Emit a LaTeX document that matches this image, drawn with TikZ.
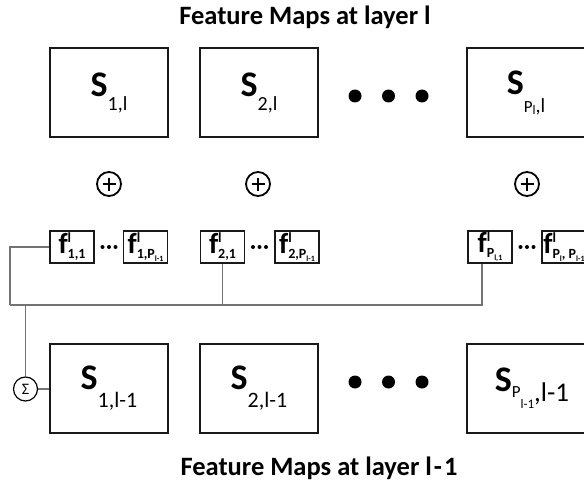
\documentclass[tikz,border=0pt]{standalone}
\usepackage{fontspec}
\setmainfont{Carlito}

% sized text helpers
\newcommand\fs[1]{\fontsize{#1}{#1}\selectfont}
% map labels: big bold S followed by a subscript lowered by #1 (size #2)
\newcommand\mapS[3]{{\bfseries\fs{36}S}\raisebox{-#1pt}{\fs{#2}#3}}
% kernel labels: bold f with superscript l over a subscript
\newcommand\kf[1]{{\bfseries\fs{29}f}\rlap{\raisebox{11pt}{\bfseries\fs{14}l}}\raisebox{-5pt}{\bfseries\fs{14}#1}}
\newcommand\ksub[1]{\raisebox{-3pt}{\fs{8}#1}}

\begin{document}
\begin{tikzpicture}[x=1pt,y=-1pt,
  mapbox/.style={draw=black!90, line width=2pt, minimum width=118pt, minimum height=89pt, inner sep=0pt},
  kbox/.style={draw=black!90, line width=1.8pt, minimum width=44pt, minimum height=32pt, inner sep=0pt},
  wire/.style={draw=black!55, line width=1.2pt},
  bigdot/.style={circle, fill=black, minimum size=13pt, inner sep=0pt},
  smalldot/.style={circle, fill=black, minimum size=4pt, inner sep=0pt},
  addop/.style={circle, draw=black, line width=1.8pt, minimum size=24pt, inner sep=0pt},
  sumop/.style={circle, draw=black, line width=1.2pt, minimum size=24pt, inner sep=0pt},
  title/.style={font=\bfseries\fs{26.5}, anchor=base},
]
\useasboundingbox (0,0) rectangle (584,487);

% titles
\node[title] (ttop) at (305,25) {Feature Maps at layer l};
\node[title] (tbot) at (319,475) {Feature Maps at layer l\kern2pt-\kern2pt1};

% feature maps at layer l
\node[mapbox] (m1t) at (109,92.5) {\mapS{14}{20}{1,l}};
\node[mapbox] (m2t) at (259,92.5) {\mapS{14}{20}{2,l}};
\node[mapbox] (mPt) at (526,92.5) {{\bfseries\fs{36}S}\raisebox{-18pt}{\fs{17}P}\raisebox{-20pt}{\fs{13}l}\raisebox{-18pt}{\fs{20},l}};
\node[bigdot] (d1t) at (355,96) {};
\node[bigdot] (d2t) at (388.5,96) {};
\node[bigdot] (d3t) at (422,96) {};

% summation operators
\foreach \n/\x in {a1/109, a2/258, aP/527}{
  \node[addop] (\n) at (\x,184) {};
  \draw[line width=2.6pt] (\x-6.5,184) -- (\x+6.5,184) (\x,177.5) -- (\x,190.5);
}

% kernels
\node[kbox] (f11) at (72,247) {\kf{1,1}};
\node[kbox] (f1P) at (145.5,247) {\kf{1,P\ksub{l-1}}};
\node[kbox] (f21) at (222.5,247) {\kf{2,1}};
\node[kbox] (f2P) at (297,247) {\kf{2,P\ksub{l-1}}};
\node[kbox] (fP1) at (490,247) {\kf{P\ksub{l,1}}};
\node[kbox] (fPP) at (564,247) {\kf{P\ksub{l}, P\ksub{l-1}}};
\foreach \n/\x in {1/109, 2/259.5, P/527}{
  \node[smalldot] (s\n a) at (\x-6.5,247) {};
  \node[smalldot] (s\n b) at (\x,247) {};
  \node[smalldot] (s\n c) at (\x+6.5,247) {};
}

% feature maps at layer l-1
\node[mapbox] (m1b) at (109,388) {\mapS{18}{22}{1,l-1}};
\node[mapbox] (m2b) at (259,388) {\mapS{18}{22}{2,l-1}};
\node[mapbox] (mPb) at (526,388) {\hspace{12pt}{\bfseries\fs{36}S}\raisebox{-6pt}{\fs{17}P}\raisebox{-17pt}{\fs{13}l-1}\raisebox{-10pt}{\fs{27},l-1}};
\node[bigdot] (d1b) at (355,382) {};
\node[bigdot] (d2b) at (388.5,382) {};
\node[bigdot] (d3b) at (422,382) {};

\node[sumop] (sum) at (25.5,389) {\fs{16}Σ};

% connections
\coordinate (busL) at (10,305);
\draw[wire] (f11.west) -| (busL);
\draw[wire] ([xshift=-8pt]fP1.south) |- (busL);
\draw[wire] (f21.south) -- (f21.south |- busL);
\draw[wire] (sum.north |- busL) -- (sum.north);
\draw[wire] (sum.east) -- (sum.east -| m1b.west);
\end{tikzpicture}
\end{document}
